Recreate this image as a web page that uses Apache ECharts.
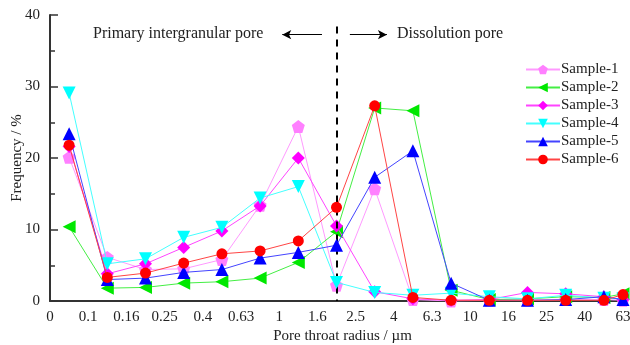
<!DOCTYPE html>
<html>
<head>
<meta charset="utf-8">
<script src="https://cdn.jsdelivr.net/npm/echarts@6/dist/echarts.min.js"></script>
<style>
html,body{margin:0;padding:0;background:#fff;}
#chart{width:630px;height:345px;}
</style>
</head>
<body>
<div id="chart"></div>
<script>
// Tick labels on the (evenly spaced, logarithmic) pore-throat-radius axis
var xTickLabels = ['0','0.1','0.16','0.25','0.4','0.63','1','1.6','2.5','4','6.3','10','16','25','40','63'];
// Bin positions (in tick-index units): midpoints of each interval, plus the final edge
var binPos = [0.5,1.5,2.5,3.5,4.5,5.5,6.5,7.5,8.5,9.5,10.5,11.5,12.5,13.5,14.5,15];

var sample1 = [20.1, 6.1, 4.4, 4.5, 5.8, 13.4, 24.4, 2.2, 15.7, 0.2, 0.0, 0.1, 0.1, 0.2, 0.2, 0.1];
var sample2 = [10.4, 1.8, 1.9, 2.5, 2.7, 3.2, 5.4, 9.7, 27.0, 26.6, 1.5, 0.2, 0.3, 0.6, 0.5, 1.0];
var sample3 = [21.6, 3.8, 5.2, 7.5, 9.8, 13.3, 20.0, 10.5, 1.3, 0.3, 0.1, 0.2, 1.2, 1.0, 0.6, 0.2];
var sample4 = [29.1, 5.2, 5.9, 8.9, 10.3, 14.4, 16.0, 2.6, 1.2, 0.8, 1.1, 0.6, 0.3, 0.8, 0.4, 0.3];
var sample5 = [23.4, 3.0, 3.2, 4.0, 4.4, 6.0, 6.8, 7.8, 17.3, 21.0, 2.5, 0.1, 0.1, 0.2, 0.6, 0.2];
var sample6 = [21.8, 3.3, 3.9, 5.3, 6.6, 7.0, 8.4, 13.1, 27.3, 0.5, 0.1, 0.1, 0.1, 0.1, 0.1, 0.9];

var seriesNames = ['Sample-1','Sample-2','Sample-3','Sample-4','Sample-5','Sample-6'];
var seriesData = [sample1, sample2, sample3, sample4, sample5, sample6];

var dividerX = 7.5;      // boundary between primary and dissolution pores (tick-index units)
var yMax = 40;

var pentagon = 'path://M0,-1 L0.951,-0.309 L0.588,0.809 L-0.588,0.809 L-0.951,-0.309 Z';
var styles = [
  {color:'#ff80ff', symbol:pentagon, rot:0, size:13},
  {color:'#00e800', symbol:'triangle', rot:90, size:13},
  {color:'#ff00ff', symbol:'diamond', rot:0, size:13},
  {color:'#00ffff', symbol:'triangle', rot:180, size:13},
  {color:'#0000ff', symbol:'triangle', rot:0, size:13},
  {color:'#ff0000', symbol:'circle', rot:0, size:11}
];
var lineColors = ['#ff99ff','#44ee44','#ff44ff','#44ffff','#4444ff','#ff4444'];

var FONT = '"Liberation Serif","Times New Roman",serif';

var series = seriesNames.map(function(name, k){
  return {
    name: name,
    type: 'line',
    data: binPos.map(function(x, i){ return [x, seriesData[k][i]]; }),
    symbol: styles[k].symbol,
    symbolRotate: styles[k].rot,
    symbolSize: styles[k].size,
    showAllSymbol: true,
    clip: true,
    z: 2 + k,
    itemStyle: {color: styles[k].color},
    lineStyle: {color: lineColors[k], width: 1},
    emphasis: {disabled: true},
    animation: false
  };
});

// divider and arrows drawn as mark lines in data space
series.push({
  type: 'line',
  data: [],
  silent: true,
  animation: false,
  markLine: {
    silent: true,
    symbol: ['none','none'],
    label: {show: false},
    animation: false,
    data: [
      [{coord:[dividerX, 38.4], lineStyle:{color:'#000', width:2, type:[7,6]}}, {coord:[dividerX, 0]}]
    ]
  }
});
series.push({
  type: 'line',
  data: [],
  silent: true,
  animation: false,
  markLine: {
    silent: true,
    symbol: ['none','arrow'],
    symbolSize: [7, 9],
    label: {show: false},
    animation: false,
    lineStyle: {color:'#000', width:1, type:'solid'},
    data: [
      [{coord:[dividerX-0.38, 37.25]}, {coord:[dividerX-1.42, 37.25]}],
      [{coord:[dividerX+0.35, 37.25]}, {coord:[dividerX+1.32, 37.25]}]
    ]
  }
});

var chart = echarts.init(document.getElementById('chart'), null, {renderer:'canvas'});
chart.setOption({
  backgroundColor: '#fff',
  animation: false,
  grid: {left: 50, right: 7, top: 15, bottom: 44, containLabel: false, outerBoundsMode: 'none'},
  legend: {
    data: seriesNames,
    orient: 'vertical',
    left: 520,
    top: 57,
    itemWidth: 34,
    itemHeight: 12,
    itemGap: 3,
    textStyle: {fontFamily: FONT, fontSize: 15, color: '#222', padding:[0,0,0,-4]},
    selectedMode: false
  },
  xAxis: {
    type: 'value',
    min: 0,
    max: 15,
    interval: 1,
    name: 'Pore throat radius / \u00b5m',
    nameLocation: 'middle',
    nameGap: 28,
    nameMoveOverlap: false,
    nameTextStyle: {fontFamily: FONT, fontSize: 15, color: '#222', padding:[0,0,0,12]},
    axisLine: {show: true, lineStyle: {color: '#333', width: 2}},
    axisTick: {show: false},
    splitLine: {show: false},
    axisLabel: {
      fontFamily: FONT, fontSize: 15, color: '#222', margin: 9,
      formatter: function(v){ return xTickLabels[Math.round(v)] || ''; }
    }
  },
  yAxis: {
    type: 'value',
    min: 0,
    max: yMax,
    interval: 10,
    name: 'Frequency / %',
    nameLocation: 'middle',
    nameGap: 25,
    nameMoveOverlap: false,
    nameTextStyle: {fontFamily: FONT, fontSize: 15, color: '#222'},
    axisLine: {show: true, lineStyle: {color: '#333', width: 2}},
    axisTick: {show: true, inside: true, length: 8, lineStyle: {color:'#333', width: 1.5}},
    minorTick: {show: true, splitNumber: 2, length: 5, lineStyle: {color:'#333', width: 1.5}},
    splitLine: {show: false},
    axisLabel: {fontFamily: FONT, fontSize: 15, color: '#222', margin: 10}
  },
  graphic: [
    {type:'text', left: 93, top: 26, style:{text:'Primary intergranular pore', fontFamily: FONT, fontSize: 16, fill:'#222'}},
    {type:'text', left: 397, top: 26, style:{text:'Dissolution pore', fontFamily: FONT, fontSize: 16, fill:'#222'}}
  ],
  series: series
});
</script>
</body>
</html>
